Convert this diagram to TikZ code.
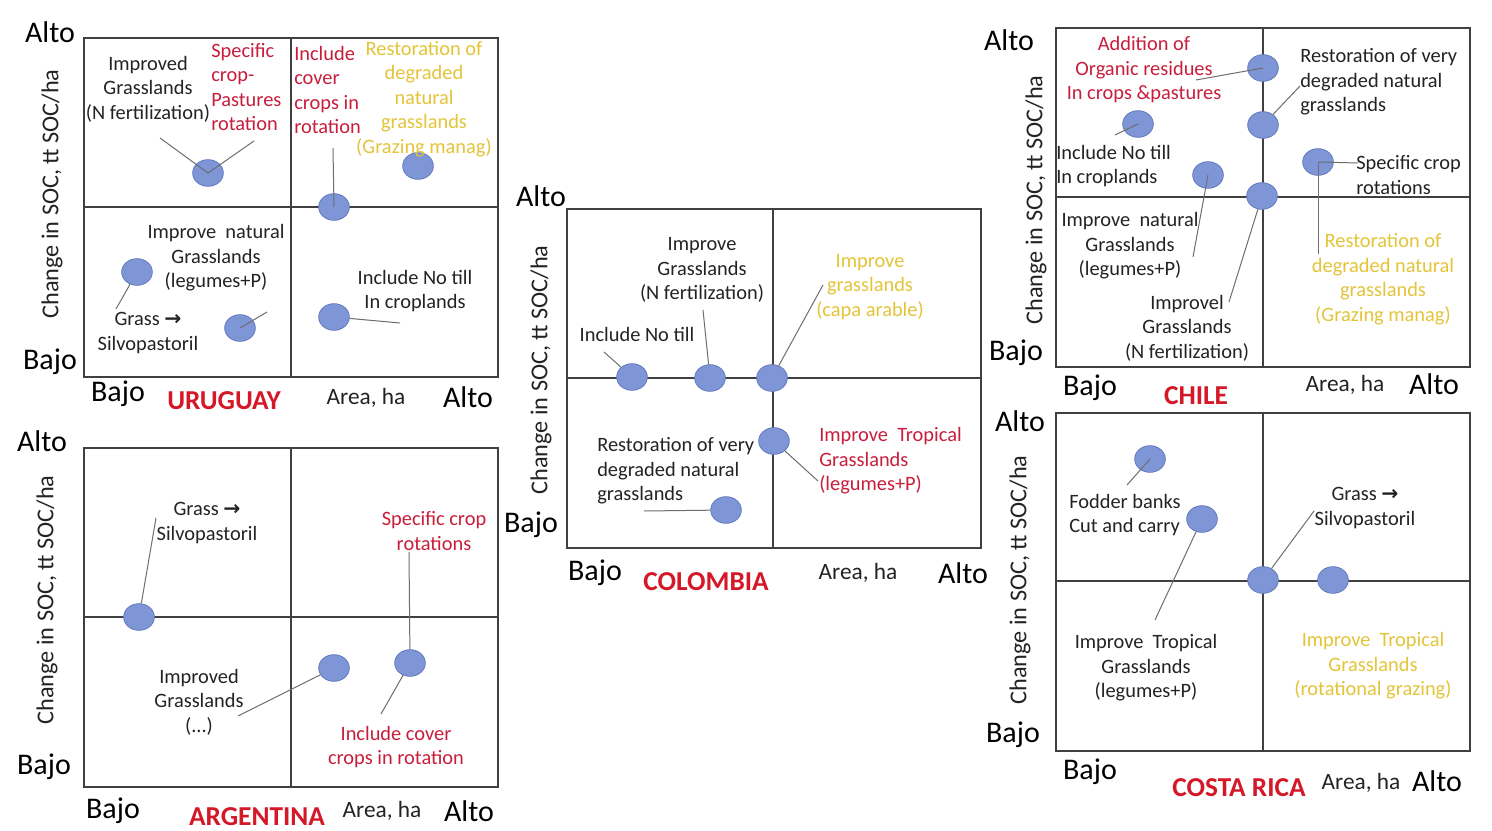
\documentclass[tikz,border=0pt]{standalone}
\usepackage{fontspec}
\setmainfont{Carlito}
\newfontfamily\arrowfont{DejaVu Sans}
\newcommand\rarr{{\arrowfont\bfseries →}}
\usetikzlibrary{shapes.geometric}
\definecolor{redt}{RGB}{200,30,60}
\definecolor{redc}{RGB}{212,24,40}
\definecolor{yelt}{RGB}{228,196,56}
\definecolor{dotf}{RGB}{126,149,214}
\definecolor{dotd}{RGB}{100,122,190}
\definecolor{boxc}{RGB}{64,64,64}
\definecolor{connc}{RGB}{110,110,110}
\definecolor{txtc}{RGB}{35,35,35}
\begin{document}
\begin{tikzpicture}[x=0.75pt,y=-0.75pt,
 frame/.style={draw=boxc,line width=1.4pt},
 midline/.style={draw=boxc,line width=1.1pt},
 dot/.style={ellipse,fill=dotf,draw=dotd,line width=0.6pt,minimum width=23pt,minimum height=20pt,inner sep=0},
 conn/.style={draw=connc,line width=0.75pt},
 txt/.style={font=\fontsize{15.3}{18.4}\selectfont,inner sep=0,align=center,text=txtc},
 ltxt/.style={txt,anchor=west,align=left},
 big/.style={font=\fontsize{22.5}{24}\selectfont,inner sep=0,text=black},
 country/.style={font=\fontsize{20.5}{22}\selectfont\bfseries,text=redc,inner sep=0},
 area/.style={font=\fontsize{17.5}{19}\selectfont,inner sep=0,text=txtc},
 ylab/.style={font=\fontsize{18.2}{19}\selectfont,rotate=90,inner sep=0,text=txtc}
]
\useasboundingbox[fill=white] (0,0) rectangle (1492,831);

% ===== URUGUAY =====
\draw[frame] (84,38) rectangle (498,377);
\draw[midline] (291,38) -- (291,377) (84,207) -- (498,207);
\node[big] (uAlto) at (50,32) {Alto};
\node[big] (uBajo) at (50,362) {Bajo};
\node[big] (uBajoX) at (118,394) {Bajo};
\node[country] (uName) at (224,401) {URUGUAY};
\node[area] (uArea) at (366,398) {Area, ha};
\node[big] (uAltoX) at (468,397) {Alto};
\node[ylab] (uY) at (52,194) {Change in SOC, tt SOC/ha};
\node[dot] (u1) at (208,173) {};
\node[dot] (u2) at (418,166) {};
\node[dot] (u3) at (334,207) {};
\node[dot] (u4) at (137,272) {};
\node[dot] (u5) at (240,328) {};
\node[dot] (u6) at (334,317) {};
\node[txt] (uT1) at (148,89) {Improved\\Grasslands\\(N fertilization)};
\node[ltxt,text=redt] (uT2) at (211,87) {Specific\\crop-\\Pastures\\rotation};
\node[ltxt,text=redt] (uT3) at (294,90) {Include\\cover\\crops in\\rotation};
\node[txt,text=yelt] (uT4) at (424,99) {Restoration of\\degraded\\natural\\grasslands\\(Grazing manag)};
\node[txt] (uT5) at (216,258) {Improve\ \ natural\\Grasslands\\(legumes+P)};
\node[txt] (uT6) at (148,333) {Grass \rarr\\Silvopastoril};
\node[txt] (uT7) at (415,291) {Include No till\\In croplands};
\coordinate (uc1) at (160,138);
\coordinate (uc2) at (254,141);
\coordinate (uc3) at (333,148);
\coordinate (uc4) at (116,309);
\coordinate (uc5) at (267,312);
\coordinate (uc6) at (400,323);
\draw[conn] (uc1) -- (u1.center);
\draw[conn] (uc2) -- (u1.center);
\draw[conn] (uc3) -- (u3.center);
\draw[conn] (u4) -- (uc4);
\draw[conn] (u5.center) -- (uc5);
\draw[conn] (u6) -- (uc6);

% ===== ARGENTINA =====
\draw[frame] (84,448) rectangle (498,787);
\draw[midline] (291,448) -- (291,787) (84,617) -- (498,617);
\node[big] (aAlto) at (42,441) {Alto};
\node[big] (aBajo) at (44,767) {Bajo};
\node[big] (aBajoX) at (113,811) {Bajo};
\node[country] (aName) at (257,817) {ARGENTINA};
\node[area] (aArea) at (382,811) {Area, ha};
\node[big] (aAltoX) at (469,811) {Alto};
\node[ylab] (aY) at (47,600) {Change in SOC, tt SOC/ha};
\node[dot] (a1) at (139,617) {};
\node[dot] (a2) at (334,668) {};
\node[dot] (a3) at (410,663) {};
\node[txt] (aT1) at (207,523) {Grass \rarr\\Silvopastoril};
\node[txt,text=redt] (aT2) at (434,531) {Specific crop\\rotations};
\node[txt] (aT3) at (199,702) {Improved\\Grasslands\\(...)};
\node[txt,text=redt] (aT4) at (396,747) {Include cover\\crops in rotation};
\coordinate (ac1) at (156,518);
\coordinate (ac2) at (238,716);
\coordinate (ac3) at (409,552);
\coordinate (ac4) at (381,714);
\draw[conn] (a1) -- (ac1);
\draw[conn] (ac2) -- (a2);
\draw[conn] (ac3) -- (a3);
\draw[conn] (a3) -- (ac4);

% ===== COLOMBIA =====
\draw[frame] (567,209) rectangle (981,548);
\draw[midline] (773,209) -- (773,548) (567,378) -- (981,378);
\node[big] (cAlto) at (541,196) {Alto};
\node[big] (cBajo) at (531,525) {Bajo};
\node[big] (cBajoX) at (595,573) {Bajo};
\node[country] (cName) at (706,582) {COLOMBIA};
\node[area] (cArea) at (858,573) {Area, ha};
\node[big] (cAltoX) at (963,573) {Alto};
\node[ylab] (cY) at (541,370) {Change in SOC, tt SOC/ha};
\node[dot] (c1) at (632,377) {};
\node[dot] (c2) at (710,378) {};
\node[dot] (c3) at (772,378) {};
\node[dot] (c4) at (774,441) {};
\node[dot] (c5) at (726,510) {};
\node[txt] (cT1) at (702,270) {Improve\\Grasslands\\(N fertilization)};
\node[txt] (cT2) at (637,334) {Include No till};
\node[txt,text=yelt] (cT3) at (870,287) {Improve\\grasslands\\(capa arable)};
\node[ltxt] (cT4) at (597,471) {Restoration of very\\degraded natural\\grasslands};
\node[ltxt,text=redt] (cT5) at (819,461) {Improve\ \ Tropical\\Grasslands\\(legumes+P)};
\coordinate (cc1) at (604,352);
\coordinate (cc2) at (703,310);
\coordinate (cc3) at (823,285);
\coordinate (cc4) at (818,481);
\coordinate (cc5) at (644,511);
\draw[conn] (cc1) -- (c1);
\draw[conn] (cc2) -- (c2);
\draw[conn] (cc3) -- (c3);
\draw[conn] (c4) -- (cc4);
\draw[conn] (cc5) -- (c5);

% ===== CHILE =====
\draw[frame] (1056,28) rectangle (1470,367);
\draw[midline] (1263,28) -- (1263,367) (1056,197) -- (1470,197);
\node[big] (hAlto) at (1009,40) {Alto};
\node[big] (hBajo) at (1016,353) {Bajo};
\node[big] (hBajoX) at (1090,388) {Bajo};
\node[country] (hName) at (1196,396) {CHILE};
\node[area] (hArea) at (1345,385) {Area, ha};
\node[big] (hAltoX) at (1434,384) {Alto};
\node[ylab] (hY) at (1036,200) {Change in SOC, tt SOC/ha};
\node[dot] (h1) at (1263,68) {};
\node[dot] (h2) at (1263,125) {};
\node[dot] (h3) at (1318,162) {};
\node[dot] (h4) at (1138,124) {};
\node[dot] (h5) at (1208,175) {};
\node[dot] (h6) at (1262,196) {};
\node[txt,text=redt] (hT1) at (1144,70) {Addition of\\Organic residues\\In crops \&pastures};
\node[ltxt] (hT2) at (1300,82) {Restoration of very\\degraded natural\\grasslands};
\node[ltxt] (hT3) at (1356,175) {Specific crop\\rotations};
\node[ltxt] (hT4) at (1056,166) {Include No till\\In croplands};
\node[txt] (hT5) at (1130,246) {Improve\ \ natural\\Grasslands\\(legumes+P)};
\node[txt] (hT6) at (1187,328) {Improvel\\Grasslands\\(N fertilization)};
\node[txt,text=yelt] (hT7) at (1383,279) {Restoration of\\degraded natural\\grasslands\\(Grazing manag)};
\coordinate (hc1) at (1196,80);
\coordinate (hc2) at (1300,86);
\coordinate (hc3) at (1358,163);
\coordinate (hc4) at (1115,135);
\coordinate (hc5) at (1193,257);
\coordinate (hc6) at (1229,302);
\coordinate (hc7) at (1318,254);
\draw[conn] (hc1) -- (h1.center);
\draw[conn] (hc2) -- (h2);
\draw[conn] (h3.center) -- (hc3);
\draw[conn] (hc4) -- (h4.center);
\draw[conn] (hc5) -- (h5.center);
\draw[conn] (hc6) -- (h6);
\draw[conn] (h3.center) -- (hc7);

% ===== COSTA RICA =====
\draw[frame] (1056,413) rectangle (1470,751);
\draw[midline] (1263,413) -- (1263,751) (1056,581) -- (1470,581);
\node[big] (rAlto) at (1020,421) {Alto};
\node[big] (rBajo) at (1013,735) {Bajo};
\node[big] (rBajoX) at (1090,772) {Bajo};
\node[country] (rName) at (1239,788) {COSTA RICA};
\node[area] (rArea) at (1361,783) {Area, ha};
\node[big] (rAltoX) at (1437,781) {Alto};
\node[ylab] (rY) at (1020,580) {Change in SOC, tt SOC/ha};
\node[dot] (r1) at (1150,459) {};
\node[dot] (r2) at (1202,519) {};
\node[dot] (r3) at (1263,580) {};
\node[dot] (r4) at (1333,580) {};
\node[ltxt] (rT1) at (1069,515) {Fodder banks\\Cut and carry};
\node[txt] (rT2) at (1365,508) {Grass \rarr\\Silvopastoril};
\node[txt] (rT3) at (1146,668) {Improve\ \ Tropical\\Grasslands\\(legumes+P)};
\node[txt,text=yelt] (rT4) at (1373,666) {Improve\ \ Tropical\\Grasslands\\(rotational grazing)};
\coordinate (rc1) at (1127,485);
\coordinate (rc2) at (1155,620);
\coordinate (rc3) at (1314,511);
\draw[conn] (rc1) -- (r1.center);
\draw[conn] (rc2) -- (r2);
\draw[conn] (rc3) -- (r3);
\end{tikzpicture}
\end{document}
